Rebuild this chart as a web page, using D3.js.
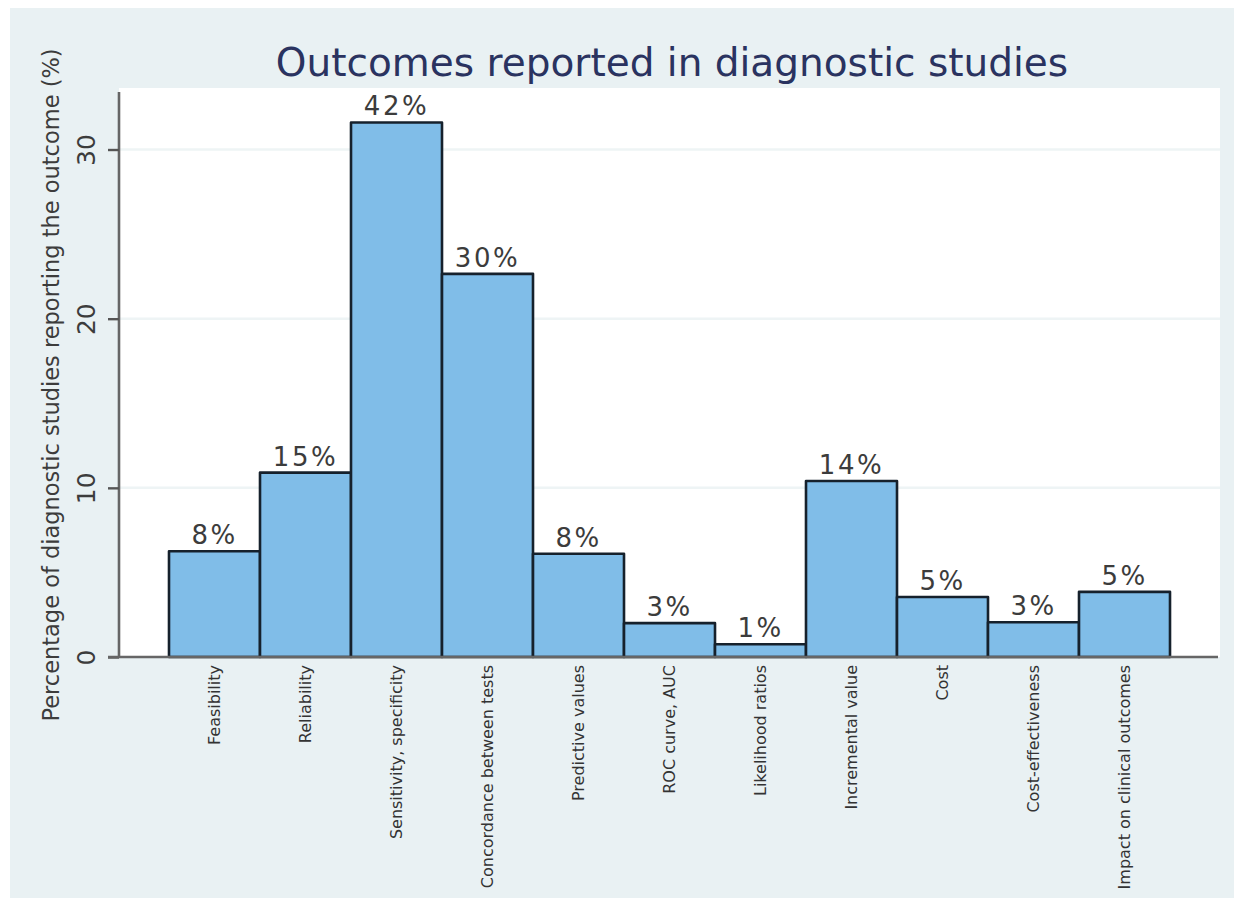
<!DOCTYPE html>
<html>
<head>
<meta charset="utf-8">
<script src="https://cdn.jsdelivr.net/npm/d3@7"></script>
<style>
  html, body { margin: 0; padding: 0; background: #ffffff; }
  svg { display: block; }
</style>
</head>
<body>
<svg id="chart" width="1234" height="902"></svg>
<script>
// Outcomes reported in diagnostic studies
const categories = [
  "Feasibility", "Reliability", "Sensitivity, specificity", "Concordance between tests",
  "Predictive values", "ROC curve, AUC", "Likelihood ratios", "Incremental value",
  "Cost", "Cost-effectiveness", "Impact on clinical outcomes"
];
// bar heights on the percentage axis
const values = [6.25, 10.9, 31.6, 22.65, 6.1, 2.0, 0.75, 10.4, 3.55, 2.05, 3.85];
// text printed above each bar
const barLabels = ["8%", "15%", "42%", "30%", "8%", "3%", "1%", "14%", "5%", "3%", "5%"];
const yTicks = [0, 10, 20, 30];

const svg = d3.select("#chart");
const W = 1234, H = 902;

// outer graph region
svg.append("rect").attr("x", 10).attr("y", 8).attr("width", W - 10).attr("height", H - 12)
  .attr("fill", "#e9f1f3");

const plot = { left: 119, right: 1220, top: 88, bottom: 657 };

const x = d3.scaleBand().domain(categories).range([169, 1170]).padding(0);
const y = d3.scaleLinear().domain([0, 33.4]).range([657, 92]);

// plot region
svg.append("rect").attr("x", plot.left).attr("y", plot.top)
  .attr("width", plot.right - plot.left).attr("height", plot.bottom - plot.top)
  .attr("fill", "#ffffff");

// gridlines
svg.append("g").selectAll("line").data(yTicks.filter(d => d > 0)).join("line")
  .attr("x1", plot.left).attr("x2", plot.right)
  .attr("y1", d => y(d)).attr("y2", d => y(d))
  .attr("stroke", "#eef4f5").attr("stroke-width", 2.5);

// bars
svg.append("g").selectAll("rect").data(categories).join("rect")
  .attr("x", d => x(d))
  .attr("y", (d, i) => y(values[i]))
  .attr("width", x.bandwidth())
  .attr("height", (d, i) => y(0) - y(values[i]))
  .attr("fill", "#80bde8")
  .attr("stroke", "#16212c")
  .attr("stroke-width", 2.6)
  .attr("stroke-linejoin", "round");

// value labels
svg.append("g").selectAll("text").data(categories).join("text")
  .attr("x", d => x(d) + x.bandwidth() / 2)
  .attr("y", (d, i) => y(values[i]) - 7)
  .attr("text-anchor", "middle")
  .attr("font-family", "DejaVu Sans, sans-serif")
  .attr("font-size", 26)
  .attr("letter-spacing", 2.5)
  .attr("fill", "#3c3c3c")
  .text((d, i) => barLabels[i]);

// y axis
const yAxis = d3.axisLeft(y).tickValues(yTicks).tickSize(11).tickPadding(0).tickFormat(d3.format("d"));
const yG = svg.append("g").attr("transform", `translate(${plot.left},0)`).call(yAxis);
yG.select(".domain").attr("stroke", "#666666").attr("stroke-width", 2.6)
  .attr("d", `M0,${y(33.4)}V${y(0)}`);
yG.selectAll(".tick line").attr("stroke", "#555555").attr("stroke-width", 2.4);
yG.selectAll(".tick text")
  .attr("font-family", "DejaVu Sans, sans-serif")
  .attr("font-size", 25)
  .attr("fill", "#3c3c3c")
  .attr("text-anchor", "middle")
  .attr("x", 0).attr("dy", 0)
  .attr("transform", "translate(-24,0) rotate(-90)");

// x axis
const xAxis = d3.axisBottom(x).tickSize(0).tickPadding(0);
const xG = svg.append("g").attr("transform", `translate(0,${y(0)})`).call(xAxis);
xG.select(".domain").attr("stroke", "#666666").attr("stroke-width", 2.6)
  .attr("d", `M${plot.left - 11},0H${plot.right - 2}`);
xG.selectAll(".tick text")
  .attr("font-family", "DejaVu Sans, sans-serif")
  .attr("font-size", 16)
  .attr("fill", "#333333")
  .attr("text-anchor", "end")
  .attr("x", -8).attr("y", 0).attr("dy", "0.35em")
  .attr("transform", "rotate(-90)");

// axis title
svg.append("text")
  .attr("transform", "translate(59,385) rotate(-90)")
  .attr("text-anchor", "middle")
  .attr("font-family", "DejaVu Sans, sans-serif")
  .attr("font-size", 22.5)
  .attr("fill", "#3c3c3c")
  .text("Percentage of diagnostic studies reporting the outcome (%)");

// chart title
svg.append("text")
  .attr("x", 672).attr("y", 76)
  .attr("text-anchor", "middle")
  .attr("font-family", "DejaVu Sans, sans-serif")
  .attr("font-size", 39)
  .attr("fill", "#2a3360")
  .text("Outcomes reported in diagnostic studies");
</script>
</body>
</html>
